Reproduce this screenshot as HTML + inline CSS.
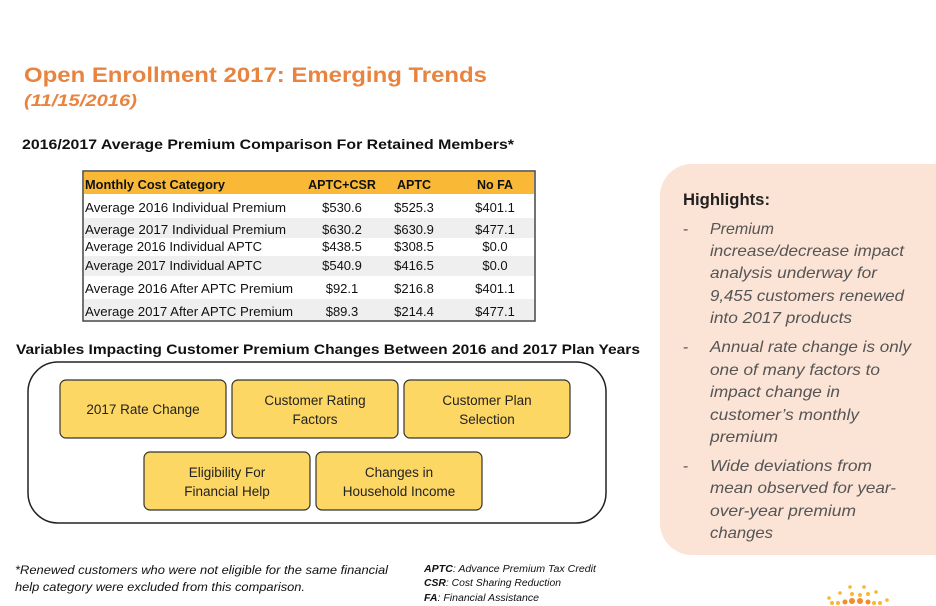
<!DOCTYPE html>
<html><head><meta charset="utf-8"><style>
body{margin:0;background:#fff}
svg{display:block;font-family:"Liberation Sans",sans-serif}
</style></head><body>
<svg width="936" height="606" viewBox="0 0 936 606" xmlns="http://www.w3.org/2000/svg">
<rect width="936" height="606" fill="#fff"/>
<text x="24" y="82" font-size="21" font-weight="bold" fill="#e8843f" textLength="463" lengthAdjust="spacingAndGlyphs">Open Enrollment 2017: Emerging Trends</text>
<text x="24" y="106" font-size="17" font-weight="bold" font-style="italic" fill="#e8843f" textLength="113" lengthAdjust="spacingAndGlyphs">(11/15/2016)</text>
<text x="22" y="149" font-size="14" font-weight="bold" fill="#111" textLength="492" lengthAdjust="spacingAndGlyphs">2016/2017 Average Premium Comparison For Retained Members*</text>

<!-- table -->
<rect x="83" y="171" width="452" height="150" fill="#fff" stroke="#444" stroke-width="1.5"/>
<rect x="84" y="172" width="450" height="22" fill="#f9b937"/>
<rect x="84" y="218" width="450" height="20" fill="#efefef"/>
<rect x="84" y="256" width="450" height="20" fill="#efefef"/>
<rect x="84" y="299" width="450" height="21" fill="#efefef"/>
<g font-size="12.5" fill="#111">
<text x="85" y="189" font-weight="bold" textLength="140" lengthAdjust="spacingAndGlyphs">Monthly Cost Category</text>
<text x="342" y="189" font-weight="bold" text-anchor="middle">APTC+CSR</text>
<text x="414" y="189" font-weight="bold" text-anchor="middle">APTC</text>
<text x="495" y="189" font-weight="bold" text-anchor="middle">No FA</text>
<g font-size="13">
<text x="85" y="212" textLength="201" lengthAdjust="spacingAndGlyphs">Average 2016 Individual Premium</text>
<text x="85" y="234" textLength="201" lengthAdjust="spacingAndGlyphs">Average 2017 Individual Premium</text>
<text x="85" y="251" textLength="177" lengthAdjust="spacingAndGlyphs">Average 2016 Individual APTC</text>
<text x="85" y="270" textLength="177" lengthAdjust="spacingAndGlyphs">Average 2017 Individual APTC</text>
<text x="85" y="293" textLength="208" lengthAdjust="spacingAndGlyphs">Average 2016 After APTC Premium</text>
<text x="85" y="316" textLength="208" lengthAdjust="spacingAndGlyphs">Average 2017 After APTC Premium</text>
</g>
<g font-size="13" text-anchor="middle">
<text x="342" y="212">$530.6</text><text x="414" y="212">$525.3</text><text x="495" y="212">$401.1</text>
<text x="342" y="234">$630.2</text><text x="414" y="234">$630.9</text><text x="495" y="234">$477.1</text>
<text x="342" y="251">$438.5</text><text x="414" y="251">$308.5</text><text x="495" y="251">$0.0</text>
<text x="342" y="270">$540.9</text><text x="414" y="270">$416.5</text><text x="495" y="270">$0.0</text>
<text x="342" y="293">$92.1</text><text x="414" y="293">$216.8</text><text x="495" y="293">$401.1</text>
<text x="342" y="316">$89.3</text><text x="414" y="316">$214.4</text><text x="495" y="316">$477.1</text>
</g>
</g>

<text x="16" y="354" font-size="14" font-weight="bold" fill="#111" textLength="624" lengthAdjust="spacingAndGlyphs">Variables Impacting Customer Premium Changes Between 2016 and 2017 Plan Years</text>

<rect x="28" y="362" width="578" height="161" rx="30" fill="#fff" stroke="#222" stroke-width="1.5"/>
<g fill="#fdd764" stroke="#333" stroke-width="1.2">
<rect x="60" y="380" width="166" height="58" rx="6"/>
<rect x="232" y="380" width="166" height="58" rx="6"/>
<rect x="404" y="380" width="166" height="58" rx="6"/>
<rect x="144" y="452" width="166" height="58" rx="6"/>
<rect x="316" y="452" width="166" height="58" rx="6"/>
</g>
<g font-size="13.5" fill="#222" text-anchor="middle">
<text x="143" y="414">2017 Rate Change</text>
<text x="315" y="405">Customer Rating</text><text x="315" y="424">Factors</text>
<text x="487" y="405">Customer Plan</text><text x="487" y="424">Selection</text>
<text x="227" y="477">Eligibility For</text><text x="227" y="496">Financial Help</text>
<text x="399" y="477">Changes in</text><text x="399" y="496">Household Income</text>
</g>

<g font-size="12" font-style="italic" fill="#111">
<text x="15" y="574" textLength="373" lengthAdjust="spacingAndGlyphs">*Renewed customers who were not eligible for the same financial</text>
<text x="15" y="591" textLength="290" lengthAdjust="spacingAndGlyphs">help category were excluded from this comparison.</text>
</g>
<g font-size="10" font-style="italic" fill="#111">
<text x="424" y="572" textLength="172" lengthAdjust="spacingAndGlyphs"><tspan font-weight="bold">APTC</tspan>: Advance Premium Tax Credit</text>
<text x="424" y="586" textLength="137" lengthAdjust="spacingAndGlyphs"><tspan font-weight="bold">CSR</tspan>: Cost Sharing Reduction</text>
<text x="424" y="601" textLength="115" lengthAdjust="spacingAndGlyphs"><tspan font-weight="bold">FA</tspan>: Financial Assistance</text>
</g>

<!-- highlights -->
<rect x="660" y="164" width="320" height="391" rx="32" fill="#fbe3d5"/>
<text x="683" y="205" font-size="17" font-weight="bold" fill="#222" textLength="87" lengthAdjust="spacingAndGlyphs">Highlights:</text>
<g font-size="16" font-style="italic" fill="#555">
<text x="683" y="234" font-style="normal">-</text>
<text x="710" y="234">Premium</text>
<text x="710" y="256" textLength="194" lengthAdjust="spacingAndGlyphs">increase/decrease impact</text>
<text x="710" y="278" textLength="167" lengthAdjust="spacingAndGlyphs">analysis underway for</text>
<text x="710" y="301" textLength="194" lengthAdjust="spacingAndGlyphs">9,455 customers renewed</text>
<text x="710" y="323" textLength="142" lengthAdjust="spacingAndGlyphs">into 2017 products</text>
<text x="683" y="352" font-style="normal">-</text>
<text x="710" y="352" textLength="201" lengthAdjust="spacingAndGlyphs">Annual rate change is only</text>
<text x="710" y="375" textLength="170" lengthAdjust="spacingAndGlyphs">one of many factors to</text>
<text x="710" y="397" textLength="130" lengthAdjust="spacingAndGlyphs">impact change in</text>
<text x="710" y="420" textLength="149" lengthAdjust="spacingAndGlyphs">customer’s monthly</text>
<text x="710" y="442" textLength="68" lengthAdjust="spacingAndGlyphs">premium</text>
<text x="683" y="471" font-style="normal">-</text>
<text x="710" y="471" textLength="162" lengthAdjust="spacingAndGlyphs">Wide deviations from</text>
<text x="710" y="493" textLength="186" lengthAdjust="spacingAndGlyphs">mean observed for year-</text>
<text x="710" y="516" textLength="146" lengthAdjust="spacingAndGlyphs">over-year premium</text>
<text x="710" y="538" textLength="63" lengthAdjust="spacingAndGlyphs">changes</text>
</g>

<!-- logo dots -->
<g fill="#f7b733">
<circle cx="850" cy="587" r="1.8"/><circle cx="864" cy="587" r="1.8"/>
<circle cx="840" cy="593" r="1.8"/><circle cx="852" cy="594" r="2"/><circle cx="860" cy="595" r="2"/><circle cx="868" cy="594" r="2"/><circle cx="876" cy="592" r="1.8"/>
<circle cx="829" cy="598" r="1.8"/><circle cx="887" cy="600" r="1.8"/>
<circle cx="832" cy="603" r="2"/><circle cx="838" cy="603" r="2"/><circle cx="874" cy="603" r="2"/><circle cx="880" cy="603" r="2"/>
</g>
<g fill="#f28c28">
<circle cx="845" cy="602" r="2.5"/><circle cx="852" cy="601" r="3"/><circle cx="860" cy="601" r="3"/><circle cx="868" cy="602" r="2.5"/>
</g>
</svg>
</body></html>
